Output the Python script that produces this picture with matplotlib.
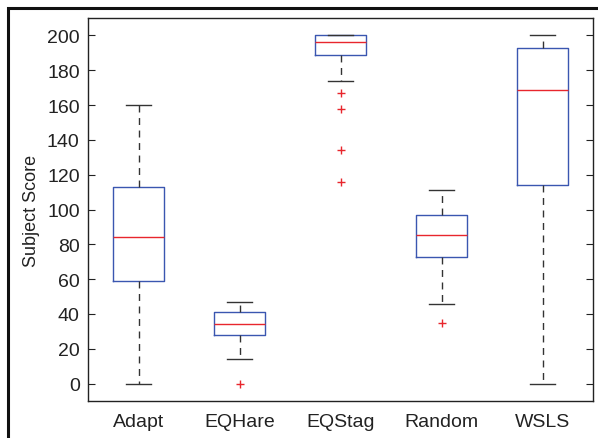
import matplotlib
matplotlib.use("Agg")
import matplotlib.pyplot as plt
from matplotlib.patches import Rectangle

plt.rcParams['font.family'] = ['Liberation Sans', 'DejaVu Sans']

# values
labels = ['Adapt', 'EQHare', 'EQStag', 'Random', 'WSLS']
whislo = [0, 14, 174, 46, 0]
q1 = [59, 28, 189, 73, 114]
med = [84, 34, 196, 85.5, 168.5]
q3 = [113, 41, 200, 97, 193]
whishi = [160, 47, 200, 111, 200]
fliers = [[], [0], [167, 158, 134, 116], [35], []]

stats = []
for i in range(len(labels)):
    stats.append(dict(label=labels[i], whislo=whislo[i], q1=q1[i], med=med[i],
                      q3=q3[i], whishi=whishi[i], fliers=fliers[i]))

fig = plt.figure(figsize=(5.98, 4.39), dpi=100)
ax = fig.add_axes([88/598, 1 - 402/439, (593 - 88)/598, (402 - 19)/439])

ax.bxp(stats, widths=0.5, showfliers=True,
       boxprops=dict(color='#3a56b0', linewidth=1.0),
       medianprops=dict(color='#e8262d', linewidth=1.0),
       whiskerprops=dict(color='#333333', linewidth=1.0, linestyle=(0, (5, 4))),
       capprops=dict(color='#333333', linewidth=1.0),
       capwidths=0.24,
       flierprops=dict(marker='+', markeredgecolor='#e8262d', markersize=6,
                       markeredgewidth=1.0, linestyle='none'))

ax.set_xlim(0.5, 5.5)
ax.set_ylim(-10, 210)
ax.set_yticks(range(0, 201, 20))
ax.set_ylabel('Subject Score', fontsize=13, color='#222222')
ax.yaxis.set_label_coords(-0.096, 0.5)
ax.tick_params(axis='y', direction='in', length=5, width=0.8, left=True, right=True,
               labelsize=14, pad=6, colors='#222222')
ax.tick_params(axis='x', length=0, labelsize=14, pad=9, colors='#222222')
for s in ax.spines.values():
    s.set_color('#222222')
    s.set_linewidth(1.0)

# outer frame of the figure (only the top and left edges show)
fig.add_artist(Rectangle((8/598, -0.1), 1.2, 1 - 9/439 + 0.1,
                         transform=fig.transFigure, fill=False,
                         edgecolor='#111111', linewidth=2.2))

fig.savefig('out.png', dpi=100)
